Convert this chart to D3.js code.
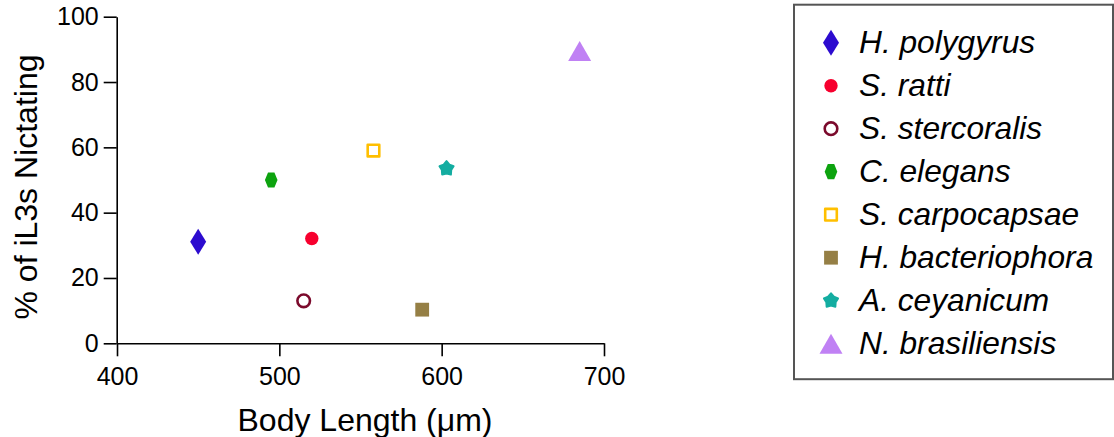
<!DOCTYPE html>
<html>
<head>
<meta charset="utf-8">
<script src="https://cdn.jsdelivr.net/npm/d3@7"></script>
<style>
  body { margin: 0; background: #fff; }
  svg { display: block; font-family: Arial, "Liberation Sans", sans-serif; }
</style>
</head>
<body>
<svg id="chart" width="1114" height="437"></svg>
<script>
// Data
const species = ["H. polygyrus", "S. ratti", "S. stercoralis", "C. elegans",
  "S. carpocapsae", "H. bacteriophora", "A. ceyanicum", "N. brasiliensis"];
const bodyLength = [450, 520, 515, 495, 558, 588, 603, 685];
const pctNictating = [31.1, 32.1, 13, 50, 59, 10.3, 53.5, 89.5];
const xTicks = [400, 500, 600, 700];
const yTicks = [0, 20, 40, 60, 80, 100];

// Marker styles, one per species
const markerShape = ["diamond", "circle", "openCircle", "hexagon", "openSquare", "square", "star", "triangle"];
const markerColor = ["#2c0bcf", "#f7002e", "#7b0a2c", "#0da30f", "#ffbf00", "#957f45", "#14ada1", "#c081f4"];

const svg = d3.select("#chart");

const x = d3.scaleLinear().domain([400, 700]).range([117, 604]);
const y = d3.scaleLinear().domain([0, 100]).range([343.3, 16.7]);

// Custom symbol types for d3.symbol
const shapes = {
  diamond: { draw(c) { c.moveTo(0, -13); c.lineTo(8, 0); c.lineTo(0, 13); c.lineTo(-8, 0); c.closePath(); } },
  circle: { draw(c) { c.arc(0, 0, 6.7, 0, 2 * Math.PI); } },
  openCircle: { draw(c) { c.arc(0, 0, 6.3, 0, 2 * Math.PI); } },
  hexagon: { draw(c) {
    c.moveTo(-6.3, 0); c.lineTo(-3.2, -7.6); c.lineTo(3.2, -7.6);
    c.lineTo(6.3, 0); c.lineTo(3.2, 7.6); c.lineTo(-3.2, 7.6); c.closePath();
  } },
  openSquare: { draw(c) { c.rect(-5.8, -5.8, 11.6, 11.6); } },
  square: { draw(c) { c.rect(-6.9, -6.9, 13.8, 13.8); } },
  star: { draw(c) {
    for (let i = 0; i < 10; i++) {
      const r = i % 2 === 0 ? 7.4 : 4.9;
      const a = -Math.PI / 2 + i * Math.PI / 5;
      if (i === 0) c.moveTo(r * Math.cos(a), r * Math.sin(a));
      else c.lineTo(r * Math.cos(a), r * Math.sin(a));
    }
    c.closePath();
  } },
  triangle: { draw(c) { c.moveTo(0, -10); c.lineTo(11.5, 10); c.lineTo(-11.5, 10); c.closePath(); } }
};

function drawMarker(sel, i) {
  const s = markerShape[i];
  const open = s === "openCircle" || s === "openSquare";
  sel.append("path")
    .attr("d", d3.symbol().type(shapes[s])())
    .attr("fill", open ? "none" : markerColor[i])
    .attr("stroke", open || s === "star" ? markerColor[i] : "none")
    .attr("stroke-width", open ? 2.6 : 2)
    .attr("stroke-linejoin", "round");
}

// Axes
const xAxis = svg.append("g")
  .attr("transform", "translate(0,343.3)")
  .call(d3.axisBottom(x).tickValues(xTicks).tickSize(13).tickSizeOuter(0).tickPadding(11));
const yAxis = svg.append("g")
  .attr("transform", "translate(116.7,0)")
  .call(d3.axisLeft(y).tickValues(yTicks).tickSize(13).tickSizeOuter(0).tickPadding(5));

[xAxis, yAxis].forEach((g) => {
  g.selectAll("path, line").attr("stroke", "#000").attr("stroke-width", 1.6);
  g.selectAll("text").attr("font-size", 25).attr("fill", "#000")
    .attr("font-family", "Arial, 'Liberation Sans', sans-serif");
});

// Axis titles
svg.append("text")
  .attr("x", 365).attr("y", 431)
  .attr("text-anchor", "middle")
  .attr("font-size", 32)
  .text("Body Length (\u03bcm)");

svg.append("text")
  .attr("transform", "translate(37,187) rotate(-90)")
  .attr("text-anchor", "middle")
  .attr("font-size", 32)
  .text("% of iL3s Nictating");

// Points
species.forEach((name, i) => {
  const g = svg.append("g")
    .attr("transform", `translate(${x(bodyLength[i])},${y(pctNictating[i])})`);
  drawMarker(g, i);
});

// Legend
svg.append("rect")
  .attr("x", 794).attr("y", 4.7)
  .attr("width", 319).attr("height", 374.5)
  .attr("fill", "none")
  .attr("stroke", "#555")
  .attr("stroke-width", 2);

species.forEach((name, i) => {
  const cy = 42.7 + i * 43;
  const g = svg.append("g").attr("transform", `translate(831,${cy})`);
  drawMarker(g, i);
  svg.append("text")
    .attr("x", 859).attr("y", cy + 10.5)
    .attr("font-size", 31.7)
    .attr("font-style", "italic")
    .text(name);
});
</script>
</body>
</html>
